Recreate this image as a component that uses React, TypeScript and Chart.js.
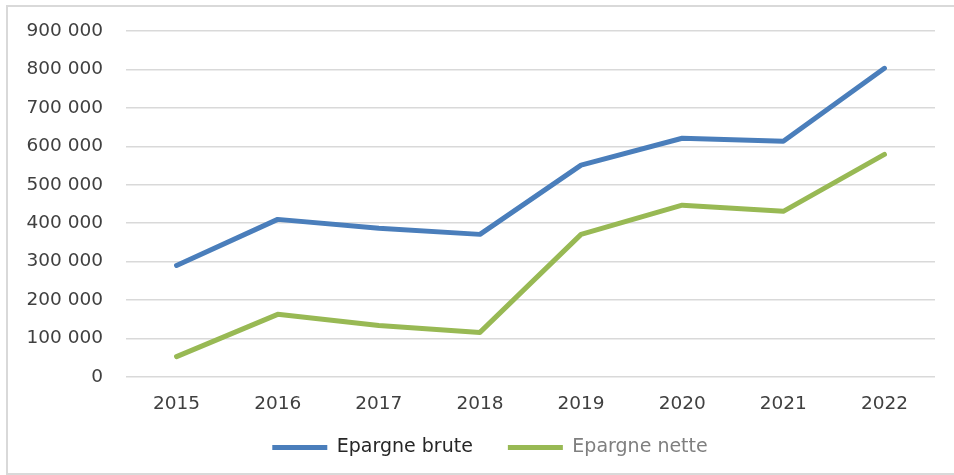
import React, { useEffect, useRef } from "react";
import { Chart, registerables } from "chart.js";

Chart.register(...registerables);

const years = ["2015", "2016", "2017", "2018", "2019", "2020", "2021", "2022"];
const epargneBrute = [290000, 410000, 387000, 371000, 551000, 621000, 613000, 803000];
const epargneNette = [53000, 163000, 134000, 116000, 371000, 447000, 431000, 579000];
const seriesNames = ["Epargne brute", "Epargne nette"];
const seriesColors = ["#4A7EBB", "#98B954"];
const legendTextColors = ["#262626", "#7F7F7F"];

const FONT = "'DejaVu Sans', sans-serif";

function fmt(v: number): string {
  return String(Math.round(v)).replace(/\B(?=(\d{3})+(?!\d))/g, " ");
}

export default function App() {
  const ref = useRef<HTMLCanvasElement | null>(null);

  useEffect(() => {
    if (!ref.current) return;
    const chart = new Chart(ref.current, {
      type: "line",
      data: {
        labels: years,
        datasets: [
          {
            label: seriesNames[0],
            data: epargneBrute,
            borderColor: seriesColors[0],
            backgroundColor: seriesColors[0],
            borderWidth: 5,
            pointRadius: 0,
            tension: 0,
            borderCapStyle: "round",
            borderJoinStyle: "round",
          },
          {
            label: seriesNames[1],
            data: epargneNette,
            borderColor: seriesColors[1],
            backgroundColor: seriesColors[1],
            borderWidth: 5,
            pointRadius: 0,
            tension: 0,
            borderCapStyle: "round",
            borderJoinStyle: "round",
          },
        ],
      },
      options: {
        animation: false,
        responsive: false,
        maintainAspectRatio: false,
        layout: { padding: { left: 45, right: 19, top: 31, bottom: 8 } },
        plugins: {
          tooltip: { enabled: false },
          legend: {
            position: "bottom",
            labels: {
              boxWidth: 55,
              boxHeight: 5,
              padding: 35,
              font: { family: FONT, size: 19 },
              generateLabels: (c: any) =>
                c.data.datasets.map((ds: any, i: number) => ({
                  text: ds.label,
                  fillStyle: seriesColors[i],
                  strokeStyle: seriesColors[i],
                  lineWidth: 0,
                  fontColor: legendTextColors[i],
                  hidden: false,
                  datasetIndex: i,
                })),
            },
          },
        },
        scales: {
          x: {
            offset: true,
            grid: { display: false },
            border: { display: false },
            ticks: {
              color: "#404040",
              padding: 8,
              font: { family: FONT, size: 18.5 },
            },
            afterFit: (s: any) => {
              s.height = 26;
              s._computeLabelArea = () => undefined;
            },
          },
          y: {
            min: 0,
            max: 900000,
            grid: { color: "#D9D9D9", lineWidth: 1.5, drawTicks: false },
            border: { display: false },
            ticks: {
              stepSize: 100000,
              color: "#404040",
              padding: 23,
              font: { family: FONT, size: 18.5 },
              callback: (v: any) => fmt(Number(v)),
            },
            afterFit: (s: any) => {
              s.width = 81;
              s.paddingTop = 0;
              s.paddingBottom = 0;
              s._computeLabelArea = () => undefined;
            },
          },
        },
      },
    });
    return () => chart.destroy();
  }, []);

  return (
    <div
      style={{
        position: "absolute",
        left: 0,
        top: 0,
        width: 954,
        height: 475,
        overflow: "hidden",
        background: "#fff",
      }}
    >
      <canvas ref={ref} width={954} height={475} style={{ position: "absolute", left: 0, top: 0 }} />
      <div
        style={{
          position: "absolute",
          left: 6,
          top: 5,
          width: 980,
          height: 466,
          border: "2px solid #D9D9D9",
          pointerEvents: "none",
        }}
      />
    </div>
  );
}
